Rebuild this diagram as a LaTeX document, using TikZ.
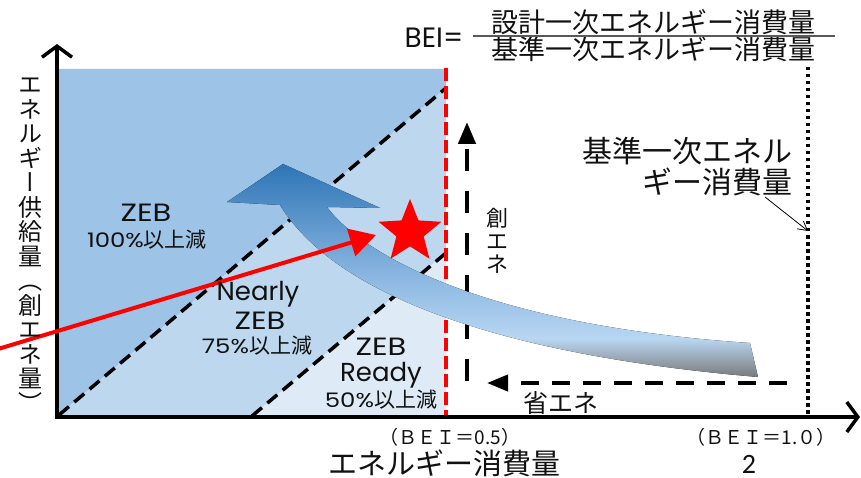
\documentclass[tikz,border=0pt]{standalone}
\usepackage{fontspec}
\setmainfont{Poppins}
\newfontfamily\wide{Poppins}[FakeStretch=1.22]
\newfontfamily\cjk{Noto Sans CJK JP}
\newfontfamily\cjkv[RawFeature=+vert]{Noto Sans CJK JP}
\newfontfamily\calfont{Carlito}
\usetikzlibrary{arrows.meta,shapes.geometric}
\definecolor{zoneA}{HTML}{9DC3E6}
\definecolor{zoneB}{HTML}{BDD7EE}
\definecolor{zoneC}{HTML}{DEEBF7}
\definecolor{arrDark}{HTML}{2E75B6}
\definecolor{arrMid}{HTML}{8DB8E2}
\definecolor{arrLight}{HTML}{B8D6F2}
\definecolor{arrGray}{HTML}{7A7A7A}
\definecolor{txt}{HTML}{111111}
\pgfdeclareverticalshading{arrowshade}{100bp}{color(0bp)=(arrGray); color(25bp)=(arrGray); color(34bp)=(arrLight); color(48bp)=(arrMid); color(75bp)=(arrDark); color(100bp)=(arrDark)}
\begin{document}
\begin{tikzpicture}[x=1pt,y=-1pt,
  jp/.style={font=\cjk\fontsize{#1}{#1}\selectfont, inner sep=0pt, text=txt},
  lat/.style={font=\fontsize{#1}{#1}\selectfont, inner sep=0pt, text=txt},
  widelat/.style={font=\wide\fontsize{#1}{#1}\selectfont, inner sep=0pt, text=txt},
  zoneline/.style={line width=3.5pt, dash pattern=on 13pt off 7pt},
  axisline/.style={line width=4.5pt, -{Straight Barb[length=11pt,width=30pt,line width=3.5pt]}},
  thinarrow/.style={line width=0.8pt, -{Straight Barb[length=9pt,width=10pt,line width=0.8pt]}}]
\useasboundingbox (0,0) rectangle (861,478);
% zone fills
\coordinate (TL) at (59,69);
\coordinate (TR) at (446,69);
\coordinate (BR) at (446,416);
\coordinate (L1a) at (59,415);
\coordinate (L1b) at (446,88);
\coordinate (L2a) at (252,416);
\coordinate (L2b) at (446,253);
\fill[zoneA] (TL) -- (TR) -- (L1b) -- (L1a) -- cycle;
\fill[zoneB] (L1a) -- (L1b) -- (L2b) -- (L2a) -- cycle;
\fill[zoneC] (L2a) -- (L2b) -- (BR) -- cycle;
\draw[zoneline] (L1a) -- (L1b);
\draw[zoneline] (L2a) -- (L2b);
% BEI=0.5 red dashed line
\coordinate (R1) at (446,68);
\coordinate (R2) at (446,415);
\draw[red, line width=3.5pt, dash pattern=on 13pt off 5pt] (R1) -- (R2);
% BEI=1.0 dotted line
\coordinate (D1) at (808,67);
\coordinate (D2) at (808,415);
\draw[line width=3.5pt, dash pattern=on 3.5pt off 3.5pt] (D1) -- (D2);
% axes
\coordinate (O) at (57,419);
\coordinate (Ytop) at (57,44);
\coordinate (Ox) at (55,417);
\coordinate (Xend) at (860,417);
\draw[axisline] (O) -- (Ytop);
\draw[axisline] (Ox) -- (Xend);
% dashed arrows
\coordinate (cA) at (467,381);
\coordinate (cB) at (467,122);
\draw[line width=4.5pt, dash pattern=on 22pt off 20pt, -{Triangle[length=22pt,width=17pt]}] (cA) -- (cB);
\coordinate (sA) at (787,383);
\coordinate (sB) at (487,383);
\draw[line width=4pt, dash pattern=on 18pt off 13pt, -{Triangle[length=21pt,width=16pt]}] (sA) -- (sB);
% big curved gradient arrow
\fill[shading=arrowshade] (283,164) -- (380,208) -- (327,207)
  .. controls (360,252) and (480,325) .. (750,343) -- (758,377)
  .. controls (500,355) and (335,295) .. (280,205) -- (227,202) -- cycle;
% red arrow
\coordinate (ra) at (-2,349);
\coordinate (rb) at (376,235);
\draw[red, line width=4pt, -{Triangle[length=26pt,width=28pt]}] (ra) -- (rb);
% star
\node[star, star points=5, star point ratio=2.3, minimum size=66pt, inner sep=0pt, fill=red] (star) at (410,232) {};
% zone labels
\node[widelat=25] (z1) at (146,213) {ZEB};
\node[widelat=20] (z1p) at (147,240) {100\%{\cjk\fontsize{21}{21}\selectfont 以上減}};
\node[lat=26] (z2a) at (258,294) {Nearly};
\node[widelat=25] (z2b) at (260,321) {ZEB};
\node[widelat=20] (z2p) at (257,346) {75\%{\cjk\fontsize{21}{21}\selectfont 以上減}};
\node[widelat=25] (z3a) at (381,347) {ZEB};
\node[lat=26] (z3b) at (381,375) {Ready};
\node[widelat=20] (z3p) at (381,400) {50\%{\cjk\fontsize{21}{21}\selectfont 以上減}};
% formula
\node[lat=28] (bei) at (434,38) {BEI=};
\node[jp=27] (num) at (653,22) {設計一次エネルギー消費量};
\node[jp=27] (den) at (653,49) {基準一次エネルギー消費量};
\coordinate (fb1) at (473,36);
\coordinate (fb2) at (835,36);
\draw[line width=1.3pt, black!65] (fb1) -- (fb2);
% reference label
\node[jp=30, anchor=east] (ref1) at (793,151) {基準一次エネル};
\node[jp=30, anchor=east] (ref2) at (793,182) {ギー消費量};
\coordinate (la) at (765,197);
\coordinate (lb) at (808,231);
\draw[thinarrow] (la) -- (lb);
% other labels
\node[font=\cjk\fontsize{22}{23}\selectfont, inner sep=0pt, align=center, text=txt] (sou) at (497,241) {創\\エ\\ネ};
\node[jp=25] (sho) at (561,403) {省エネ};
\node[jp=19] (b05) at (450,437) {（ＢＥＩ＝0.5）};
\node[jp=19] (b10) at (761,437) {（ＢＥＩ＝1.０）};
\node[jp=29] (xlab) at (444,463) {エネルギー消費量};
\node[font=\cjkv\fontsize{24}{24.5}\selectfont, inner sep=0pt, align=center, text=txt] (ylab) at (30,245) {エ\\ネ\\ル\\ギ\\ー\\供\\給\\量\\（\\創\\エ\\ネ\\量\\）};
\node[font=\calfont\fontsize{28}{28}\selectfont, inner sep=0pt, text=txt] (pg) at (749,464) {2};
\end{tikzpicture}
\end{document}
